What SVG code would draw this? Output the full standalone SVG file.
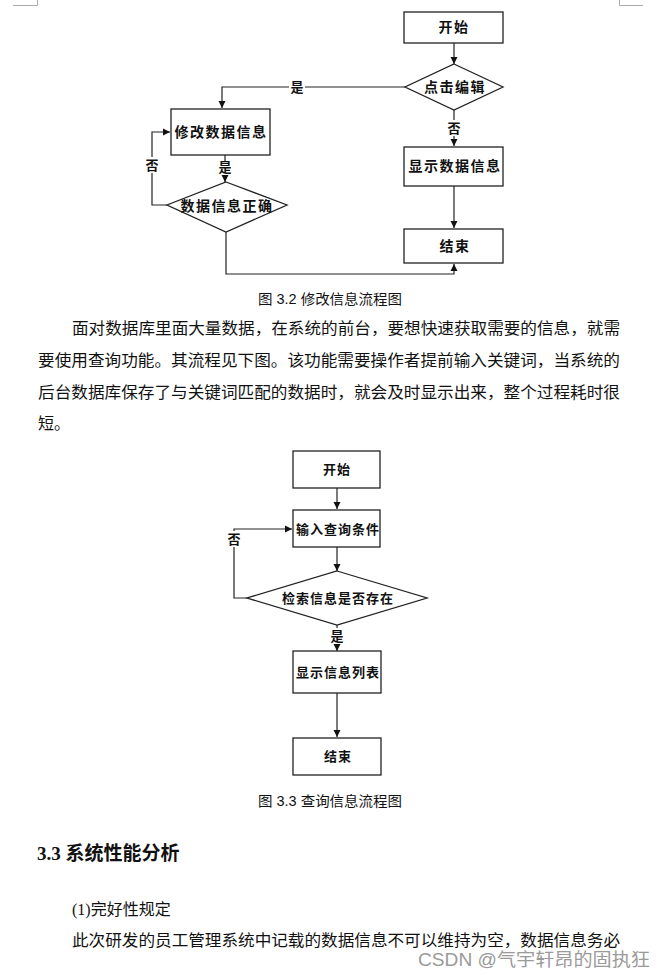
<svg xmlns="http://www.w3.org/2000/svg" width="664" height="975" viewBox="0 0 664 975">
<style>
.box{fill:#fff;stroke:#222;stroke-width:1.3}
.ln{fill:none;stroke:#222;stroke-width:1.2}
.nt{font-family:"Liberation Serif","Noto Sans CJK SC",serif;font-weight:bold;font-size:14px;letter-spacing:1.5px;fill:#111;text-anchor:middle;dominant-baseline:central}
.nt2{font-family:"Liberation Serif","Noto Sans CJK SC",serif;font-weight:bold;font-size:13px;letter-spacing:1px;fill:#111;text-anchor:middle;dominant-baseline:central}
.lb{font-family:"Liberation Serif","Noto Sans CJK SC",serif;font-weight:bold;font-size:13px;fill:#111;text-anchor:middle;dominant-baseline:central}
.bg{fill:#fff;stroke:none}
.body{font-family:"Liberation Serif","Noto Sans CJK SC",sans-serif;font-size:16px;fill:#111}
.cap{font-family:"Liberation Sans","Noto Sans CJK SC",sans-serif;font-size:14px;fill:#111}
.mark{stroke:#aaa;stroke-width:1;fill:none}
</style>
<defs>
<marker id="ah" markerWidth="8" markerHeight="8" refX="7" refY="4" orient="auto" markerUnits="userSpaceOnUse">
<path d="M0,0.5 L7,4 L0,7.5 Z" fill="#111"/>
</marker>
</defs>
<rect width="664" height="975" fill="#fff"/>
<g id="page-marks">
<path class="mark" d="M13,5.5 H37.5 V0"/>
<path class="mark" d="M619.5,0 V5.5 H643"/>
</g>

<!-- Top chart -->
<g id="connectors-top">
<path class="ln" d="M454,43 V64" marker-end="url(#ah)"/>
<path class="ln" d="M405,87 H222 V108" marker-end="url(#ah)"/>
<path class="ln" d="M454,110 V146" marker-end="url(#ah)"/>
<path class="ln" d="M225,155 V182" marker-end="url(#ah)"/>
<path class="ln" d="M167,205 H152 V132 H170" marker-end="url(#ah)"/>
<path class="ln" d="M454,186 V228" marker-end="url(#ah)"/>
<path class="ln" d="M226,232 V274 H454 V264" marker-end="url(#ah)"/>
<rect class="bg" x="289" y="79" width="16" height="16"/>
<text class="lb" x="297" y="87">是</text>
<rect class="bg" x="446" y="120" width="16" height="16"/>
<text class="lb" x="454" y="128">否</text>
<rect class="bg" x="217" y="161" width="16" height="14"/>
<text class="lb" x="225" y="167">是</text>
<rect class="bg" x="144" y="157" width="16" height="16"/>
<text class="lb" x="152" y="165">否</text>
</g>
<g id="t-start"><rect class="box" x="404" y="12" width="99" height="31"/><text class="nt" x="454" y="27">开始</text></g>
<g id="t-click"><polygon class="box" points="454,64 503,87 454,110 405,87"/><text class="nt" x="455" y="87">点击编辑</text></g>
<g id="t-modify"><rect class="box" x="171" y="109" width="99" height="46"/><text class="nt" x="221" y="132">修改数据信息</text></g>
<g id="t-check"><polygon class="box" points="226,182 287,205 226,232 167,205"/><text class="nt" x="227" y="206">数据信息正确</text></g>
<g id="t-show"><rect class="box" x="404" y="147" width="99" height="39"/><text class="nt" x="455" y="166">显示数据信息</text></g>
<g id="t-end"><rect class="box" x="404" y="229" width="99" height="34"/><text class="nt" x="455" y="246">结束</text></g>

<text class="cap" x="258" y="304" textLength="144" lengthAdjust="spacingAndGlyphs">图 3.2  修改信息流程图</text>

<text class="body" x="72" y="334" textLength="548" lengthAdjust="spacingAndGlyphs">面对数据库里面大量数据，在系统的前台，要想快速获取需要的信息，就需</text>
<text class="body" x="38" y="366" textLength="582" lengthAdjust="spacingAndGlyphs">要使用查询功能。其流程见下图。该功能需要操作者提前输入关键词，当系统的</text>
<text class="body" x="38" y="398" textLength="582" lengthAdjust="spacingAndGlyphs">后台数据库保存了与关键词匹配的数据时，就会及时显示出来，整个过程耗时很</text>
<text class="body" x="38" y="429">短。</text>

<!-- Bottom chart -->
<g id="connectors-bottom">
<path class="ln" d="M337,488 V509" marker-end="url(#ah)"/>
<path class="ln" d="M337,547 V571" marker-end="url(#ah)"/>
<path class="ln" d="M247,598 H234 V529 H292" marker-end="url(#ah)"/>
<path class="ln" d="M337,625 V651" marker-end="url(#ah)"/>
<path class="ln" d="M337,693 V737" marker-end="url(#ah)"/>
<rect class="bg" x="226" y="531" width="16" height="16"/>
<text class="lb" x="234" y="539">否</text>
<rect class="bg" x="329" y="628" width="16" height="16"/>
<text class="lb" x="337" y="636">是</text>
</g>
<g id="b-start"><rect class="box" x="293" y="451" width="87" height="37"/><text class="nt2" x="337" y="469">开始</text></g>
<g id="b-input"><rect class="box" x="293" y="510" width="87" height="37"/><text class="nt2" x="338" y="529">输入查询条件</text></g>
<g id="b-search"><polygon class="box" points="337,571 427,598 337,625 247,598"/><text class="nt2" x="338" y="598">检索信息是否存在</text></g>
<g id="b-show"><rect class="box" x="293" y="651" width="88" height="42"/><text class="nt2" x="338" y="672">显示信息列表</text></g>
<g id="b-end"><rect class="box" x="293" y="738" width="88" height="37"/><text class="nt2" x="338" y="756">结束</text></g>

<text class="cap" x="258" y="806" textLength="144" lengthAdjust="spacingAndGlyphs">图 3.3  查询信息流程图</text>

<text x="37" y="860" font-family="'Liberation Serif','Noto Sans CJK SC',serif" font-weight="bold" font-size="19" fill="#111">3.3 系统性能分析</text>
<text class="body" x="72" y="915">(1)完好性规定</text>
<text class="body" x="72" y="946" textLength="548" lengthAdjust="spacingAndGlyphs">此次研发的员工管理系统中记载的数据信息不可以维持为空，数据信息务必</text>
<text x="418" y="966" font-family="'Liberation Sans','Noto Sans CJK SC',sans-serif" font-size="18" fill="#9a9a9a" textLength="232" lengthAdjust="spacingAndGlyphs">CSDN @气宇轩昂的固执狂</text>
</svg>
